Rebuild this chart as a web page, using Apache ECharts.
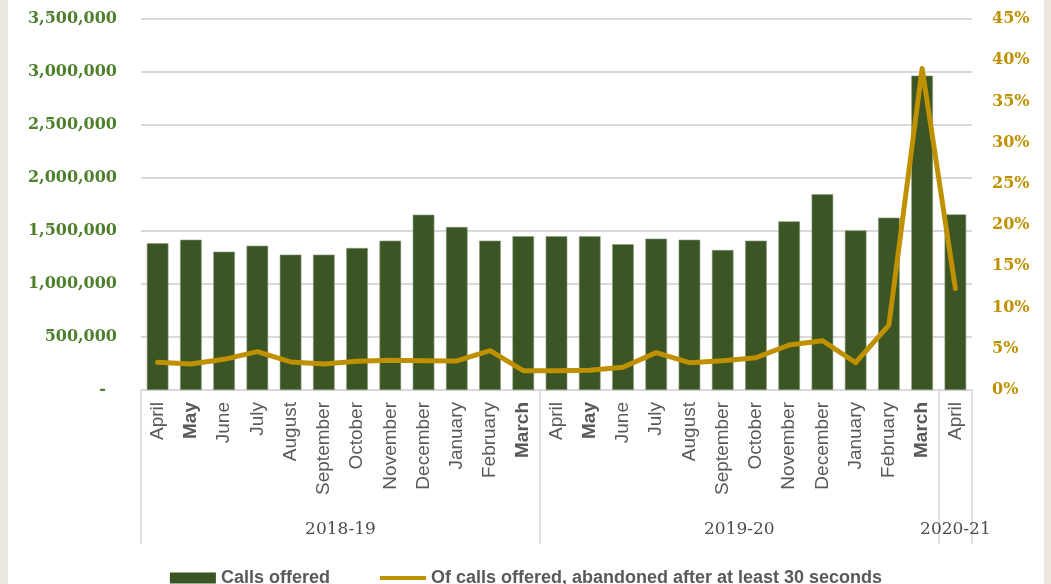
<!DOCTYPE html>
<html>
<head>
<meta charset="utf-8">
<script src="https://cdn.jsdelivr.net/npm/echarts@6/dist/echarts.min.js"></script>
<style>
  html, body { margin: 0; padding: 0; background: #EBE7DE; }
  #chart { position: absolute; left: 8px; top: 0; width: 1036px; height: 584px; background: #ffffff; }
</style>
</head>
<body>
<div id="chart"></div>
<script>
// Monthly categories, grouped by financial year
const months = [
  'April', 'May', 'June', 'July', 'August', 'September', 'October', 'November', 'December', 'January', 'February', 'March',
  'April', 'May', 'June', 'July', 'August', 'September', 'October', 'November', 'December', 'January', 'February', 'March',
  'April'
];
const fiscalYears = ['2018-19', '2019-20', '2020-21'];
const monthsPerYear = [12, 12, 1];

// Calls offered per month
const callsOffered = [
  1385000, 1418000, 1305000, 1361000, 1277000, 1277000, 1340000, 1409000, 1654000, 1538000, 1409000, 1450000,
  1450000, 1450000, 1375000, 1428000, 1418000, 1321000, 1409000, 1591000, 1846000, 1506000, 1626000, 2966000,
  1657000
];

// Share of offered calls abandoned after at least 30 seconds (%)
const abandonedPct = [
  3.36, 3.15, 3.72, 4.65, 3.40, 3.15, 3.48, 3.60, 3.56, 3.52, 4.77, 2.34,
  2.34, 2.40, 2.75, 4.53, 3.31, 3.56, 3.92, 5.46, 5.98, 3.31, 7.88, 39.0,
  12.3
];

const seriesNames = ['Calls offered', 'Of calls offered, abandoned after at least 30 seconds'];
const boldMonths = ['May', 'March'];

// Group boundaries and centres along the category axis
const boundaries = [0];
const centres = [];
monthsPerYear.forEach(n => {
  const start = boundaries[boundaries.length - 1];
  centres.push(start + n / 2);
  boundaries.push(start + n);
});

const GRID = '#D9D9D9';
const GREY_TEXT = '#595959';
const BAR_GREEN = '#3B5524';
const GOLD = '#BF9000';
const LABEL_GREEN = '#4E7F2C';

const chart = echarts.init(document.getElementById('chart'));
chart.setOption({
  animation: false,
  grid: { left: 133, right: 72, top: 19, bottom: 194 },
  legend: {
    data: [
      { name: seriesNames[0], icon: 'rect', itemStyle: { color: BAR_GREEN, borderWidth: 0 } },
      { name: seriesNames[1], icon: 'path://M0,0H50V4.6H0Z', itemStyle: { color: GOLD } }
    ],
    left: 'center',
    top: 564,
    itemWidth: 46,
    itemHeight: 11,
    itemGap: 50,
    textStyle: { fontFamily: 'Liberation Sans', fontWeight: 'bold', fontSize: 18, color: GREY_TEXT }
  },
  xAxis: [
    {
      type: 'category',
      data: months,
      axisLine: { lineStyle: { color: GRID, width: 1.5 } },
      axisTick: { show: false },
      axisLabel: {
        interval: 0,
        rotate: 90,
        margin: 12,
        fontFamily: 'Liberation Sans',
        fontSize: 19,
        color: GREY_TEXT,
        formatter: v => boldMonths.includes(v) ? '{b|' + v + '}' : v,
        rich: { b: { fontFamily: 'Liberation Sans', fontSize: 19, fontWeight: 'bold', color: GREY_TEXT } }
      }
    },
    {
      // Financial-year grouping beneath the month labels
      type: 'value',
      position: 'bottom',
      offset: 0,
      min: 0,
      max: months.length,
      axisLine: { show: false },
      splitLine: { show: false },
      axisTick: {
        show: true,
        customValues: boundaries,
        length: 154,
        lineStyle: { color: GRID, width: 1.5 }
      },
      axisLabel: {
        customValues: centres,
        margin: 131,
        fontFamily: 'DejaVu Serif',
        fontSize: 17,
        color: '#4D4D4D',
        formatter: v => fiscalYears[centres.indexOf(v)] || ''
      }
    }
  ],
  yAxis: [
    {
      type: 'value',
      min: 0,
      max: 3500000,
      interval: 500000,
      axisLine: { show: false },
      axisTick: { show: false },
      splitLine: { lineStyle: { color: GRID, width: 1.8 } },
      axisLabel: {
        margin: 24,
        fontFamily: 'DejaVu Serif',
        fontWeight: 'bold',
        fontSize: 16,
        color: LABEL_GREEN,
        formatter: v => v === 0 ? '{d|-}' : v.toLocaleString('en-US'),
        rich: { d: { fontFamily: 'DejaVu Serif', fontSize: 16, color: LABEL_GREEN, padding: [0, 11, 0, 0] } }
      }
    },
    {
      type: 'value',
      min: 0,
      max: 45,
      interval: 5,
      position: 'right',
      axisLine: { show: false },
      axisTick: { show: false },
      splitLine: { show: false },
      axisLabel: {
        margin: 20,
        fontFamily: 'DejaVu Serif',
        fontWeight: 'bold',
        fontSize: 16,
        color: GOLD,
        formatter: v => v + '%'
      }
    }
  ],
  series: [
    {
      name: seriesNames[0],
      type: 'bar',
      data: callsOffered,
      barWidth: '65%',
      itemStyle: { color: BAR_GREEN, borderColor: '#8A9A7C', borderWidth: 0.6 }
    },
    {
      name: seriesNames[1],
      type: 'line',
      yAxisIndex: 1,
      data: abandonedPct,
      symbol: 'none',
      z: 5,
      lineStyle: { color: GOLD, width: 5, join: 'round', cap: 'round' },
      itemStyle: { color: GOLD }
    }
  ]
});
</script>
</body>
</html>
